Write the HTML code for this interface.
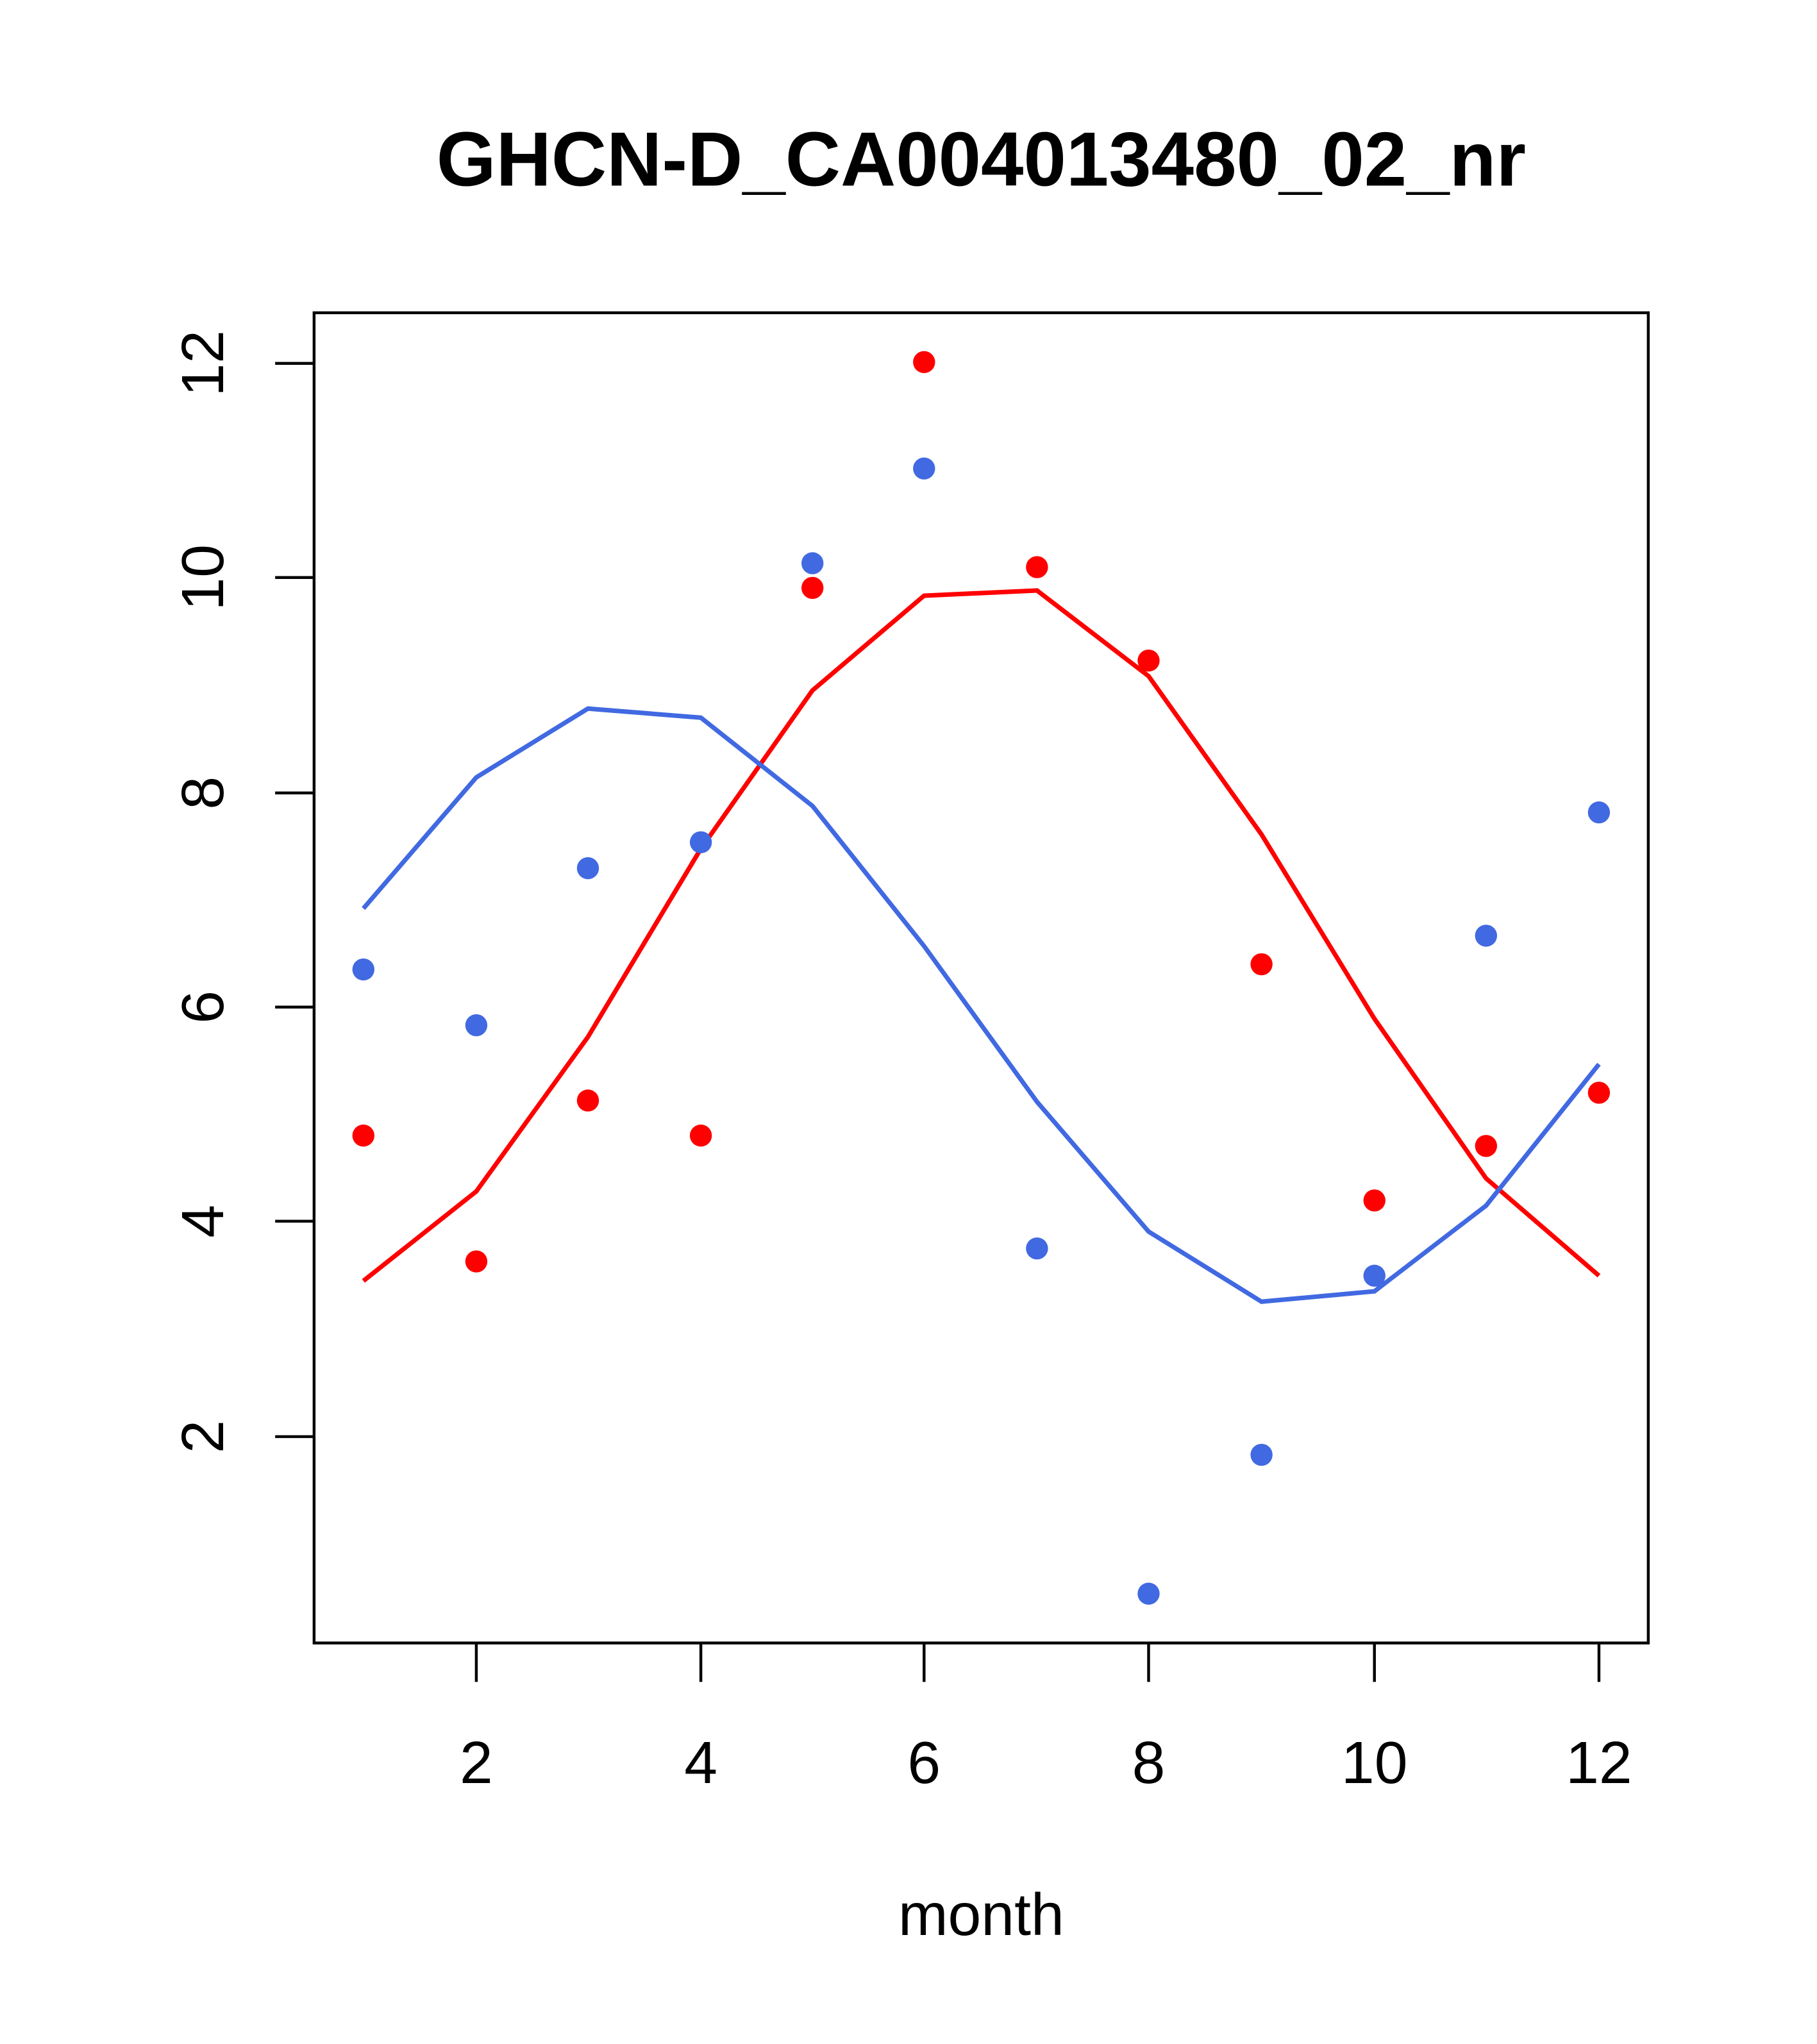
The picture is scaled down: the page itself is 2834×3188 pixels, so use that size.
<!DOCTYPE html>
<html><head><style>html,body{margin:0;padding:0;background:#fff}svg{display:block}</style></head>
<body>
<svg width="2834" height="3188" viewBox="0 0 1400 1575" preserveAspectRatio="none" xmlns="http://www.w3.org/2000/svg" font-family="Liberation Sans, Arial, sans-serif">
<text x="756" y="143" text-anchor="middle" font-size="59" font-weight="bold">GHCN-D_CA004013480_02_nr</text>
<rect x="242" y="241" width="1028" height="1025" fill="none" stroke="#000" stroke-width="2.2"/>
<g stroke="#000" stroke-width="2.2">
<line x1="367" y1="1266" x2="367" y2="1296"/><line x1="540" y1="1266" x2="540" y2="1296"/><line x1="712" y1="1266" x2="712" y2="1296"/><line x1="885" y1="1266" x2="885" y2="1296"/><line x1="1059" y1="1266" x2="1059" y2="1296"/><line x1="1232" y1="1266" x2="1232" y2="1296"/>
<line x1="242" y1="280" x2="212" y2="280"/><line x1="242" y1="445" x2="212" y2="445"/><line x1="242" y1="611" x2="212" y2="611"/><line x1="242" y1="776" x2="212" y2="776"/><line x1="242" y1="941" x2="212" y2="941"/><line x1="242" y1="1107" x2="212" y2="1107"/>
</g>
<g font-size="46" text-anchor="middle">
<text x="367" y="1374">2</text><text x="540" y="1374">4</text><text x="712" y="1374">6</text><text x="885" y="1374">8</text><text x="1059" y="1374">10</text><text x="1232" y="1374">12</text>
<text transform="translate(172,280) rotate(-90)">12</text>
<text transform="translate(172,445) rotate(-90)">10</text>
<text transform="translate(172,611) rotate(-90)">8</text>
<text transform="translate(172,776) rotate(-90)">6</text>
<text transform="translate(172,941) rotate(-90)">4</text>
<text transform="translate(172,1107) rotate(-90)">2</text>
<text x="756" y="1491">month</text>
</g>
<polyline fill="none" stroke="#ff0000" stroke-width="3.5" points="280,987 367,918 453,799 540,654 626,532 712,459 799,455 885,521 972,643 1059,785 1145,908 1232,983"/>
<polyline fill="none" stroke="#4169e1" stroke-width="3.5" points="280,700 367,599 453,546 540,553 626,621 712,729 799,849 885,949 972,1003 1059,995 1145,929 1232,820"/>
<g fill="#ff0000">
<circle cx="280" cy="875" r="8.5"/><circle cx="367" cy="972" r="8.5"/><circle cx="453" cy="848" r="8.5"/><circle cx="540" cy="875" r="8.5"/><circle cx="626" cy="453" r="8.5"/><circle cx="712" cy="279" r="8.5"/><circle cx="799" cy="437" r="8.5"/><circle cx="885" cy="509" r="8.5"/><circle cx="972" cy="743" r="8.5"/><circle cx="1059" cy="925" r="8.5"/><circle cx="1145" cy="883" r="8.5"/><circle cx="1232" cy="842" r="8.5"/>
</g>
<g fill="#4169e1">
<circle cx="280" cy="747" r="8.5"/><circle cx="367" cy="790" r="8.5"/><circle cx="453" cy="669" r="8.5"/><circle cx="540" cy="649" r="8.5"/><circle cx="626" cy="434" r="8.5"/><circle cx="712" cy="361" r="8.5"/><circle cx="799" cy="962" r="8.5"/><circle cx="885" cy="1228" r="8.5"/><circle cx="972" cy="1121" r="8.5"/><circle cx="1059" cy="983" r="8.5"/><circle cx="1145" cy="721" r="8.5"/><circle cx="1232" cy="626" r="8.5"/>
</g>
</svg>
</body></html>
